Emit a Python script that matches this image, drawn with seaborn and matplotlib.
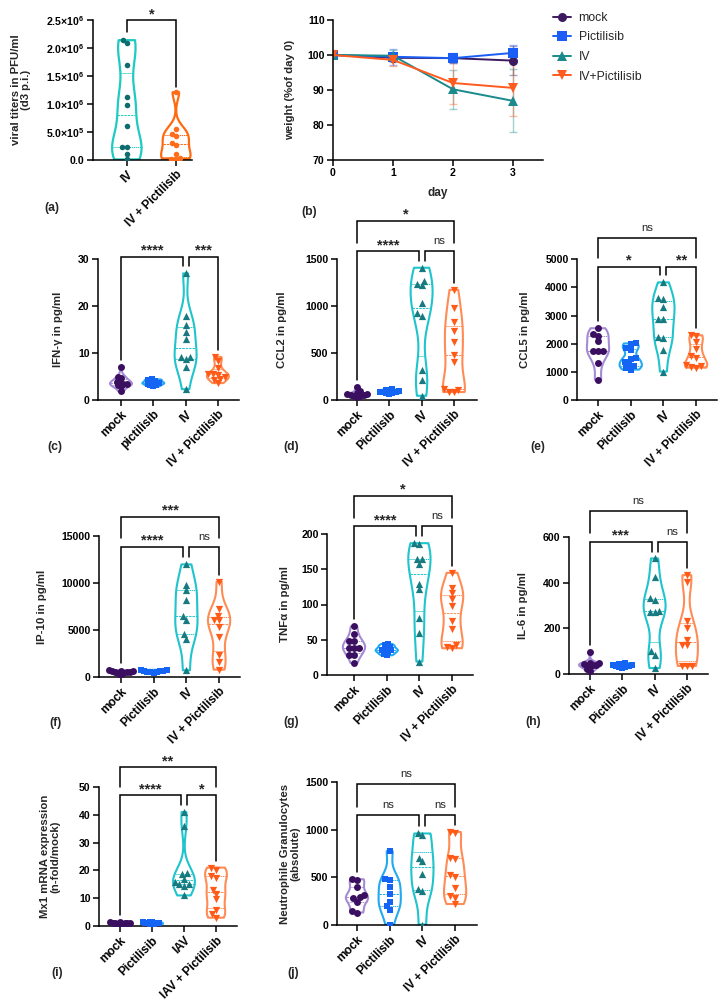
import warnings
warnings.filterwarnings("ignore")
import numpy as np
import pandas as pd
import matplotlib
matplotlib.use("Agg")
import matplotlib.pyplot as plt
from matplotlib import transforms
import seaborn as sns
from seaborn import categorical as _scat

sns.set_theme(style="ticks")
plt.rcParams['font.family'] = ['Liberation Sans', 'DejaVu Sans']
plt.rcParams['font.weight'] = 'bold'
plt.rcParams['axes.labelweight'] = 'bold'
plt.rcParams['axes.edgecolor'] = 'black'
plt.rcParams['axes.linewidth'] = 1.1
plt.rcParams['xtick.color'] = 'black'
plt.rcParams['ytick.color'] = 'black'
plt.rcParams['mathtext.fontset'] = 'custom'
plt.rcParams['mathtext.rm'] = 'Liberation Sans:bold'
plt.rcParams['mathtext.bf'] = 'Liberation Sans:bold'
plt.rcParams['mathtext.default'] = 'bf'

# let swarm markers overlap (compact, like the reference scatter)
if hasattr(_scat, "Beeswarm"):
    _orig_call = _scat.Beeswarm.__call__

    def _compact_call(self, points, center):
        s = points.get_sizes().copy()
        points.set_sizes(s * getattr(points, "_shrink", 0.45))
        try:
            _orig_call(self, points, center)
        finally:
            points.set_sizes(s)

    _scat.Beeswarm.__call__ = _compact_call

# ---------------- data ----------------
# (a) viral titers
a_cats = ["IV", "IV + Pictilisib"]
a_iv = [2.14e6, 2.09e6, 1.70e6, 1.12e6, 0.99e6, 0.61e6, 0.24e6, 0.23e6, 0.11e6, 0.01e6]
a_ivp = [1.21e6, 0.55e6, 0.46e6, 0.43e6, 0.30e6, 0.26e6, 0.10e6, 0.03e6, 0.02e6, 0.02e6]
a_yticks = [0, 0.5e6, 1.0e6, 1.5e6, 2.0e6, 2.5e6]
a_yticklabels = ["0.0", r"$5.0{\times}10^{5}$", r"$1.0{\times}10^{6}$", r"$1.5{\times}10^{6}$",
                 r"$2.0{\times}10^{6}$", r"$2.5{\times}10^{6}$"]

# (b) weight
b_days = [0, 1, 2, 3]
b_groups = ["mock", "Pictilisib", "IV", "IV+Pictilisib"]
b_mock = [100, 99.2, 99.1, 98.4]
b_mock_sd = [0, 0.9, 1.3, 4.2]
b_pict = [100, 99.5, 99.1, 100.6]
b_pict_sd = [0, 2.3, 1.5, 2.2]
b_iv = [100, 99.8, 90.2, 86.9]
b_iv_sd = [0, 1.7, 5.6, 9.0]
b_ivp = [100, 98.6, 92.0, 90.6]
b_ivp_sd = [0, 1.6, 6.0, 8.1]

cats_std = ["mock", "Pictilisib", "IV", "IV + Pictilisib"]
cats_c = ["mock", "pictilisib", "IV", "IV + Pictilisib"]
cats_i = ["mock", "Pictilisib", "IAV", "IAV + Pictilisib"]

c_mock = [7.1, 5.0, 4.6, 3.9, 3.7, 3.5, 3.4, 3.2, 2.9, 1.9]
c_pict = [4.4, 4.3, 4.1, 3.9, 3.7, 3.6, 3.5, 3.3, 3.1, 2.9]
c_iv = [27.0, 17.9, 16.0, 14.4, 13.1, 9.2, 9.1, 8.7, 7.0, 2.3]
c_ivp = [9.2, 8.4, 6.9, 5.6, 5.5, 5.4, 5.0, 4.5, 4.3, 3.6]

d_mock = [140, 95, 75, 65, 60, 55, 50, 45, 40, 35]
d_pict = [115, 105, 100, 95, 90, 85, 80, 75, 70, 65]
d_iv = [1410, 1270, 1235, 1225, 1030, 925, 900, 320, 210, 45]
d_ivp = [1175, 985, 835, 740, 620, 480, 410, 115, 110, 90, 85]

e_mock = [2550, 2350, 2290, 2100, 1750, 1740, 1730, 1300, 710]
e_pict = [2010, 1980, 1850, 1780, 1480, 1450, 1350, 1250, 1200, 1120, 1080]
e_iv = [4180, 3620, 3600, 3290, 2880, 2870, 2230, 2220, 1780, 1010]
e_ivp = [2300, 2280, 2050, 1830, 1560, 1500, 1250, 1200, 1180, 1150]

f_mock = [720, 680, 640, 600, 560, 520, 480, 430, 380, 170]
f_pict = [760, 730, 700, 660, 620, 590, 560, 530, 500, 470]
f_iv = [11980, 9780, 9240, 8180, 6470, 6110, 4550, 4090, 710]
f_ivp = [10130, 7220, 6540, 6110, 6040, 5330, 4270, 2310, 1600, 780]

g_mock = [69, 58, 48, 48, 39, 39, 39, 29, 29, 17]
g_pict = [44, 42, 40, 38, 36, 35, 34, 32, 30, 28]
g_iv = [187, 186, 165, 164, 158, 129, 122, 81, 59, 19]
g_ivp = [145, 124, 116, 108, 98, 77, 65, 43, 40, 38]

h_mock = [95, 50, 46, 43, 40, 38, 35, 30, 20, 12]
h_pict = [48, 45, 42, 40, 38, 36, 34, 32, 30, 28]
h_iv = [506, 426, 331, 324, 278, 273, 270, 99, 84, 26]
h_ivp = [433, 404, 230, 203, 150, 128, 125, 37, 36, 35]

i_mock = [1.5, 1.35, 1.2, 1.1, 1.0, 0.95, 0.9, 0.8, 0.7, 0.6]
i_pict = [1.6, 1.45, 1.3, 1.2, 1.1, 1.0, 0.9, 0.8, 0.7, 0.6]
i_iav = [41, 36, 18.9, 18.6, 17.0, 15.8, 15.2, 15.0, 14.5, 11.0]
i_iavp = [21, 20.3, 18, 17.3, 13, 11.6, 9.8, 5.6, 4.2, 3.0]

j_mock = [480, 470, 395, 315, 290, 280, 245, 145, 130]
j_pict = [775, 480, 475, 395, 325, 245, 200, 160, 5]
j_iv = [960, 945, 705, 670, 540, 375, 355, 5]
j_ivp = [975, 970, 700, 695, 525, 505, 385, 300, 280, 220]

# ---------------- style ----------------
W, H = 726, 1002
mark_cols = ["#3b0f5f", "#1565f5", "#177a80", "#ff5a17"]
edge_cols = ["#a58bd6", "#22aaf0", "#1fc4cc", "#ff8c55"]
markers = ["o", "s", "^", "v"]
msizes = [5.0, 4.8, 5.2, 5.2]
shrinks_dense = [0.22, 0.22, 0.45, 0.45]
shrinks_open = [0.5, 0.5, 0.45, 0.45]
line_cols = ["#3d1a5f", "#1a5ef5", "#1a8a8c", "#ff5b1f"]
TICK_FS = 7.6
LAB_FS = 8.2
CAT_FS = 8.6

fig = plt.figure(figsize=(W / 100, H / 100), dpi=100)


def rect(l, r, t, b):
    return [l / W, 1 - b / H, (r - l) / W, (b - t) / H]


def style_axes(ax):
    sns.despine(ax=ax)
    for s in ["left", "bottom"]:
        ax.spines[s].set_linewidth(1.1)
        ax.spines[s].set_color("black")
    ax.tick_params(direction="out", length=4, width=1.1, labelsize=TICK_FS, pad=2)


def draw_bracket(ax, x1, x2, yb, leg1, leg2, label):
    tr = ax.get_xaxis_transform()
    ax.plot([x1, x1, x2, x2], [leg1, yb, yb, leg2], color="black", lw=1.1,
            transform=tr, clip_on=False, solid_joinstyle="miter")
    if label == "ns":
        fs, fw, dy = 8.2, "normal", 5
    else:
        fs, fw, dy = 10.5, "bold", 1.3
    off = transforms.offset_copy(tr, fig=fig, y=dy, units="points")
    ax.text((x1 + x2) / 2, yb, label, transform=off, ha="center", va="baseline",
            fontsize=fs, fontweight=fw, clip_on=False)


def set_ylabel(ax, text, center_px, left_px, right_px):
    ax.set_ylabel(text, fontsize=LAB_FS, fontweight="bold", linespacing=1.1)
    ax.yaxis.set_label_coords((center_px - left_px) / (right_px - left_px), 0.5)
    ax.yaxis.label.set_verticalalignment("center")


def swarm(ax, cat, vals, order, color, marker, size, shrink):
    n_before = len(ax.collections)
    sns.swarmplot(x=[cat] * len(vals), y=list(vals), order=order, color=color,
                  marker=marker, size=size, linewidth=0, ax=ax)
    for coll in ax.collections[n_before:]:
        coll._shrink = shrink


# ---------------- (a) ----------------
axa = fig.add_axes(rect(93, 192, 20, 160))
dfa = pd.DataFrame({"group": [a_cats[0]] * len(a_iv) + [a_cats[1]] * len(a_ivp),
                    "value": a_iv + a_ivp})
sns.violinplot(data=dfa, x="group", y="value", hue="group", order=a_cats, hue_order=a_cats,
               palette=["#1ecbc0", "#ff6a10"], fill=False, inner="quart", cut=0,
               density_norm="width", width=0.6, linewidth=1.6, bw_adjust=0.6,
               legend=False, ax=axa, inner_kws=dict(linewidth=0.7))
for k, vals in enumerate([a_iv, a_ivp]):
    swarm(axa, a_cats[k], vals, a_cats, ["#0e6b6e", "#ff6d1a"][k], "o", 4.0, 0.6)
axa.set_ylim(0, 2.5e6)
axa.set_xlim(-0.69, 1.33)
axa.set_yticks(a_yticks)
axa.set_yticklabels(a_yticklabels)
axa.set_xlabel("")
style_axes(axa)
axa.set_xticks([0, 1])
axa.set_xticklabels(a_cats, rotation=45, ha="right", rotation_mode="anchor", fontsize=CAT_FS)
set_ylabel(axa, "viral titers in PFU/ml\n(d3 p.i.)", 21, 93, 192)
ymax_a = [max(a_iv) / 2.5e6 + 0.06, max(a_ivp) / 2.5e6 + 0.04]
draw_bracket(axa, 0, 1, 1.0, ymax_a[0], ymax_a[1], "*")

# ---------------- (b) ----------------
axb = fig.add_axes(rect(333, 543, 20, 160))
b_means = [b_mock, b_pict, b_iv, b_ivp]
b_sds = [b_mock_sd, b_pict_sd, b_iv_sd, b_ivp_sd]
dfb = pd.DataFrame({"day": b_days * 4,
                    "weight": sum(b_means, []),
                    "group": sum([[g] * 4 for g in b_groups], [])})
for k in range(4):
    axb.errorbar(b_days, b_means[k], yerr=b_sds[k], fmt="none", ecolor=line_cols[k],
                 alpha=0.4, capsize=3, elinewidth=1.0, capthick=1.0)
sns.lineplot(data=dfb, x="day", y="weight", hue="group", style="group",
             hue_order=b_groups, style_order=b_groups, palette=line_cols,
             markers=dict(zip(b_groups, markers)), dashes=False, markersize=6.5,
             markeredgewidth=0, linewidth=1.4, ax=axb, legend=True)
axb.set_xlim(0, 3.5)
axb.set_ylim(70, 110)
axb.set_xticks([0, 1, 2, 3])
axb.set_yticks([70, 80, 90, 100, 110])
style_axes(axb)
axb.set_xlabel("day", fontsize=LAB_FS + 0.3, fontweight="bold", labelpad=6)
set_ylabel(axb, "weight (%of day 0)", 290, 333, 543)
handles, labels = axb.get_legend_handles_labels()
axb.legend_.remove()
fig.legend(handles, labels, loc="upper left", bbox_to_anchor=(548 / W, 1 - 7 / H),
           frameon=False, prop=dict(size=8.8, weight="normal"), handlelength=1.5,
           labelspacing=0.62, handletextpad=0.6, borderaxespad=0)

# ---------------- violin panels ----------------
panels = [
    dict(data=[c_mock, c_pict, c_iv, c_ivp], cats=cats_c, ylabel="IFN-γ in pg/ml",
         ylim=(0, 30), yticks=[0, 10, 20, 30], box=(98, 239, 259.3, 400), c0=121, sp=32.3,
         lab_x=58, lower=1.018, llabels=("****", "***"), upper=None, ulabel=None,
         tag="(c)", tag_xy=(55, 447), shrink=shrinks_dense),
    dict(data=[d_mock, d_pict, d_iv, d_ivp], cats=cats_std, ylabel="CCL2 in pg/ml",
         ylim=(0, 1500), yticks=[0, 500, 1000, 1500], box=(337, 477, 259.3, 400), c0=357, sp=32.3,
         lab_x=282, lower=1.059, llabels=("****", "ns"), upper=1.274, ulabel="*",
         tag="(d)", tag_xy=(291, 447), shrink=shrinks_dense),
    dict(data=[e_mock, e_pict, e_iv, e_ivp], cats=cats_std, ylabel="CCL5 in pg/ml",
         ylim=(0, 5000), yticks=[0, 1000, 2000, 3000, 4000, 5000], box=(577, 717, 259.3, 400),
         c0=598, sp=32.7, lab_x=525, lower=0.947, llabels=("*", "**"), upper=1.154, ulabel="ns",
         tag="(e)", tag_xy=(538, 447), shrink=shrinks_open),
    dict(data=[f_mock, f_pict, f_iv, f_ivp], cats=cats_std, ylabel="IP-10 in pg/ml",
         ylim=(0, 15000), yticks=[0, 5000, 10000, 15000], box=(99, 240, 536, 677), c0=121, sp=32.7,
         lab_x=42, lower=0.924, llabels=("****", "ns"), upper=1.137, ulabel="***",
         tag="(f)", tag_xy=(56, 723), shrink=shrinks_dense),
    dict(data=[g_mock, g_pict, g_iv, g_ivp], cats=cats_std, ylabel="TNFα in pg/ml",
         ylim=(0, 200), yticks=[0, 50, 100, 150, 200], box=(327, 473, 534, 675), c0=354, sp=32.7,
         lab_x=285, lower=1.057, llabels=("****", "ns"), upper=1.272, ulabel="*",
         tag="(g)", tag_xy=(291, 722), shrink=[0.4, 0.22, 0.45, 0.45]),
    dict(data=[h_mock, h_pict, h_iv, h_ivp], cats=cats_std, ylabel="IL-6 in pg/ml",
         ylim=(0, 600), yticks=[0, 200, 400, 600], box=(569, 708, 537, 674), c0=590, sp=32.3,
         lab_x=523, lower=0.966, llabels=("***", "ns"), upper=1.19, ulabel="ns",
         tag="(h)", tag_xy=(533, 722), shrink=shrinks_dense),
    dict(data=[i_mock, i_pict, i_iav, i_iavp], cats=cats_i,
         ylabel="Mx1 mRNA expression\n(n-fold/mock)",
         ylim=(0, 50), yticks=[0, 10, 20, 30, 40, 50], box=(99, 237, 787, 926), c0=120, sp=32,
         lab_x=50, lower=0.94, llabels=("****", "*"), upper=1.144, ulabel="**",
         tag="(i)", tag_xy=(57, 973), shrink=[0.12, 0.12, 0.45, 0.45]),
    dict(data=[j_mock, j_pict, j_iv, j_ivp], cats=cats_std,
         ylabel="Neutrophile Granulocytes\n(absolute)",
         ylim=(0, 1500), yticks=[0, 500, 1000, 1500], box=(337, 477, 782, 925), c0=357, sp=32.7,
         lab_x=290, lower=0.768, llabels=("ns", "ns"), upper=0.984, ulabel="ns",
         tag="(j)", tag_xy=(293, 973), shrink=shrinks_open),
]

for p in panels:
    l, r, t, b = p["box"]
    ax = fig.add_axes(rect(l, r, t, b))
    cats = p["cats"]
    groups, values = [], []
    for k, vals in enumerate(p["data"]):
        groups += [cats[k]] * len(vals)
        values += list(vals)
    df = pd.DataFrame({"group": groups, "value": values})
    sns.violinplot(data=df, x="group", y="value", hue="group", order=cats, hue_order=cats,
                   palette=edge_cols, fill=False, inner="quart", cut=0,
                   density_norm="width", width=0.68, linewidth=1.5, bw_adjust=0.7,
                   legend=False, ax=ax, inner_kws=dict(linewidth=0.7))
    for k, vals in enumerate(p["data"]):
        swarm(ax, cats[k], vals, cats, mark_cols[k], markers[k], msizes[k], p["shrink"][k])
    y0, y1 = p["ylim"]
    ax.set_ylim(y0, y1)
    ax.set_yticks(p["yticks"])
    ax.set_xlim((l - p["c0"]) / p["sp"], (r - p["c0"]) / p["sp"])
    ax.set_xlabel("")
    style_axes(ax)
    ax.set_xticks([0, 1, 2, 3])
    ax.set_xticklabels(cats, rotation=45, ha="right", rotation_mode="anchor", fontsize=CAT_FS)
    set_ylabel(ax, p["ylabel"], p["lab_x"], l, r)

    tops = [(max(v) - y0) / (y1 - y0) + 0.05 for v in p["data"]]
    lo = p["lower"]
    draw_bracket(ax, 0, 2 - 0.09, lo, min(tops[0], lo - 0.01), min(tops[2], lo - 0.01), p["llabels"][0])
    draw_bracket(ax, 2 + 0.09, 3, lo, min(tops[2], lo - 0.01), min(tops[3], lo - 0.01), p["llabels"][1])
    if p["upper"] is not None:
        draw_bracket(ax, 0, 3, p["upper"], lo + 0.06, lo + 0.06, p["ulabel"])
    fig.text(p["tag_xy"][0] / W, 1 - p["tag_xy"][1] / H, p["tag"], ha="center", va="center",
             fontsize=8.8, fontweight="bold")

fig.text(52 / W, 1 - 208 / H, "(a)", ha="center", va="center", fontsize=8.8, fontweight="bold")
fig.text(309 / W, 1 - 212 / H, "(b)", ha="center", va="center", fontsize=8.8, fontweight="bold")

fig.savefig("out.png", dpi=100, facecolor="white")
